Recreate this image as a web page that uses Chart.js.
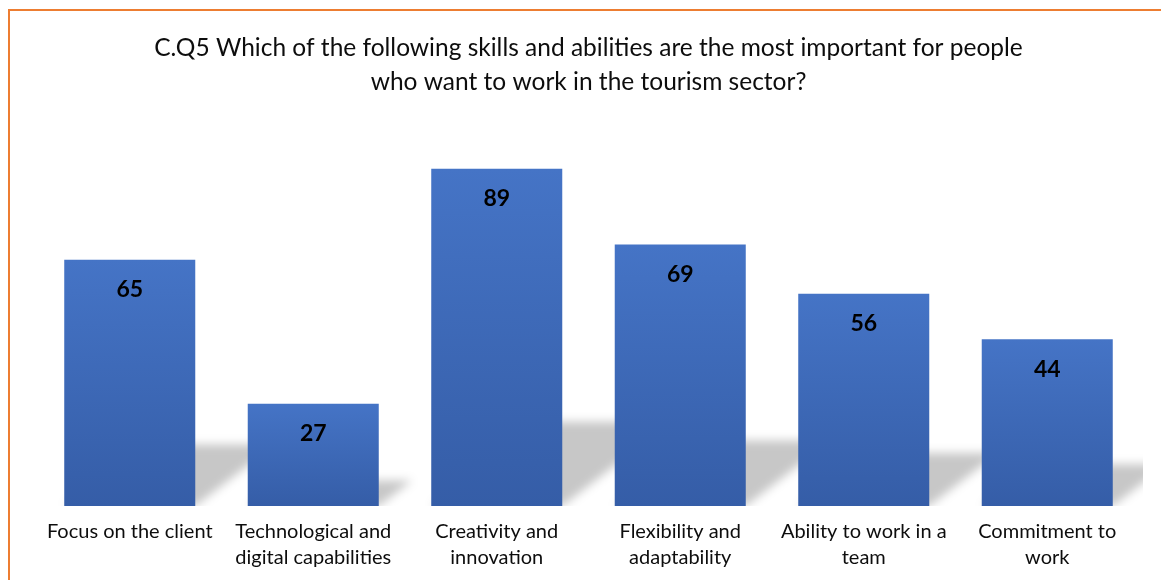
<!DOCTYPE html>
<html>
<head>
<meta charset="utf-8">
<script src="https://cdn.jsdelivr.net/npm/chart.js@4.4.1/dist/chart.umd.min.js"></script>
<style>
  html, body { margin: 0; padding: 0; background: #ffffff; overflow: hidden; }
  #wrap { position: relative; width: 1161px; height: 580px; }
  #frame { position: absolute; left: 8px; top: 9px; width: 1300px; height: 700px;
           border-left: 2.5px solid #ED7D31; border-top: 2.5px solid #ED7D31; box-sizing: border-box; }
  canvas { position: absolute; left: 0; top: 0; }
</style>
</head>
<body>
<div id="wrap">
  <div id="frame"></div>
  <canvas id="c" width="1161" height="580"></canvas>
</div>
<script>
const titleLines = [
  "C.Q5 Which of the following skills and abilities are the most important for people",
  "who want to work in the tourism sector?"
];
const categories = [
  ["Focus on the client"],
  ["Technological and", "digital capabilities"],
  ["Creativity and", "innovation"],
  ["Flexibility and", "adaptability"],
  ["Ability to work in a", "team"],
  ["Commitment to", "work"]
];
const values = [65, 27, 89, 69, 56, 44];
const yMin = 0;
const yMax = 100;

const FONT = "Lato, 'Open Sans', sans-serif";

const shadowPlugin = {
  id: 'barShadow',
  beforeDatasetsDraw(chart) {
    const ctx = chart.ctx;
    const area = chart.chartArea;
    const meta = chart.getDatasetMeta(0);
    ctx.save();
    ctx.beginPath();
    ctx.rect(area.left, area.top, area.right - area.left + 4, area.bottom - area.top);
    ctx.clip();
    ctx.filter = 'blur(5px)';
    ctx.fillStyle = 'rgba(0,0,0,0.22)';
    meta.data.forEach(bar => {
      const h = bar.base - bar.y;
      const sh = 0.25 * h;
      const dx = 1.3 * sh;
      const l = bar.x - bar.width / 2, r = bar.x + bar.width / 2;
      ctx.beginPath();
      ctx.moveTo(l, bar.base);
      ctx.lineTo(r, bar.base);
      ctx.lineTo(r + dx, bar.base - sh);
      ctx.lineTo(l + dx, bar.base - sh);
      ctx.closePath();
      ctx.fill();
    });
    ctx.restore();
  }
};

const labelPlugin = {
  id: 'barLabels',
  afterDatasetsDraw(chart) {
    const ctx = chart.ctx;
    const meta = chart.getDatasetMeta(0);
    ctx.save();
    ctx.font = "bold 23px " + FONT;
    ctx.fillStyle = '#000000';
    ctx.textAlign = 'center';
    ctx.textBaseline = 'middle';
    meta.data.forEach((bar, i) => {
      ctx.fillText(String(values[i]), bar.x, bar.y + 30);
    });
    ctx.restore();
  }
};

new Chart(document.getElementById('c'), {
  type: 'bar',
  data: {
    labels: categories,
    datasets: [{
      data: values,
      backgroundColor: (c) => {
        const chart = c.chart;
        if (!chart.chartArea || c.type !== 'data') return '#4472C4';
        const ys = chart.scales.y;
        const top = ys.getPixelForValue(c.raw);
        const base = ys.getPixelForValue(0);
        const g = chart.ctx.createLinearGradient(0, top, 0, base);
        g.addColorStop(0, '#4574C6');
        g.addColorStop(1, '#355DA7');
        return g;
      },
      borderWidth: 0,
      categoryPercentage: 1.0,
      barPercentage: 0.714
    }]
  },
  options: {
    responsive: false,
    animation: false,
    layout: { padding: { left: 38, right: 22, top: 0, bottom: 4 } },
    plugins: {
      legend: { display: false },
      tooltip: { enabled: false },
      title: {
        display: true,
        text: titleLines,
        color: '#0d0d0d',
        font: { family: FONT, size: 24.5, weight: 'normal', lineHeight: 34 / 24.5 },
        padding: { top: 31, bottom: 28 }
      }
    },
    scales: {
      x: {
        grid: { display: false },
        border: { display: false },
        ticks: {
          color: '#0d0d0d',
          font: { family: FONT, size: 20, lineHeight: 1.3 },
          padding: 5,
          maxRotation: 0,
          autoSkip: false
        }
      },
      y: {
        display: false,
        min: yMin,
        max: yMax
      }
    }
  },
  plugins: [shadowPlugin, labelPlugin]
});
</script>
</body>
</html>
